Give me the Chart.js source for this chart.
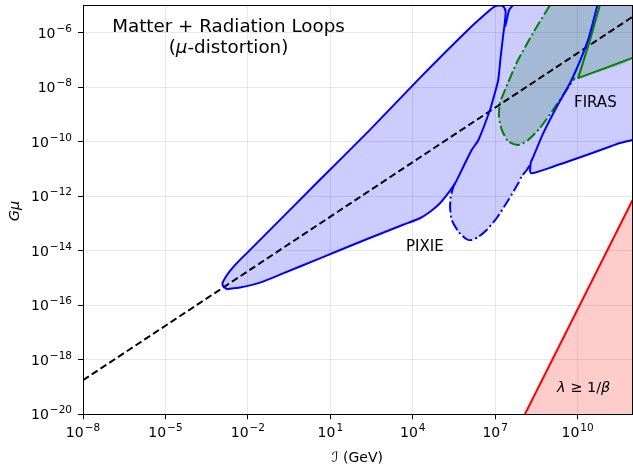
<!DOCTYPE html>
<html>
<head>
<meta charset="utf-8">
<script src="https://cdn.jsdelivr.net/npm/chart.js@4.4.1/dist/chart.umd.min.js"></script>
<style>
  html, body { margin: 0; padding: 0; background: #fff; }
  canvas { display: block; }
</style>
</head>
<body>
<canvas id="chart" width="633" height="467"></canvas>
<script>
// tick positions, as powers of ten
const xTickExps = [-8, -5, -2, 1, 4, 7, 10];
const yTickExps = [-20, -18, -16, -14, -12, -10, -8, -6];

// curves as [log10 I, log10 Gmu] pairs
const stringLine = [[-8, -18.75], [12, -5.42]];

const pixieLoopA = [
    [-2.77, -15.41], [-2.905, -15.29], [-2.92, -15.18], [-2.83, -15.0], [-2.65, -14.74],
    [-2.36, -14.41], [-1.92, -13.97], [0.62, -11.40], [2.44, -9.57], [4.26, -7.66],
    [6.08, -5.83], [6.81, -5.17], [6.99, -5.04], [7.17, -5.0], [7.30, -5.05],
    [7.38, -5.23], [7.34, -5.72], [7.30, -6.02], [7.20, -6.88], [7.11, -7.74],
    [6.96, -8.32], [6.81, -8.84], [6.39, -9.94], [6.15, -10.30], [5.84, -10.92],
    [5.54, -11.53], [5.29, -11.89], [4.99, -12.26], [4.63, -12.57], [4.26, -12.81],
    [3.65, -13.05], [2.32, -13.58], [0.62, -14.28], [-0.83, -14.88], [-1.56, -15.17],
    [-2.29, -15.35], [-2.77, -15.41]
];
const pixieLoopBTop = [[7.64, -5.0], [7.51, -5.17], [7.42, -5.54], [7.36, -5.79]];
const pixieLoopBLower = [
    [5.54, -11.53], [5.48, -11.65], [5.38, -12.02], [5.36, -12.44], [5.42, -12.87],
    [5.66, -13.30], [5.96, -13.58], [6.15, -13.61], [6.39, -13.49], [6.69, -13.24],
    [7.05, -12.81], [7.48, -12.14], [7.84, -11.53], [7.96, -11.28], [8.15, -11.04],
    [8.27, -10.85]
];
const pixieRightEdge = [
    [10.72, -5.0], [10.38, -6.27], [9.78, -7.74], [9.24, -8.72], [8.75, -9.69],
    [8.39, -10.55], [8.29, -10.79], [8.30, -11.16], [9.10, -10.92], [10.56, -10.41],
    [11.54, -10.05], [12.0, -9.94]
];
const pixieRegion = [
    [-2.77, -15.41], [-2.905, -15.29], [-2.92, -15.18], [-2.83, -15.0], [-2.65, -14.74],
    [-2.36, -14.41], [-1.92, -13.97], [0.62, -11.40], [2.44, -9.57], [4.26, -7.66],
    [6.08, -5.83], [6.81, -5.17], [6.99, -5.04], [7.17, -5.0], [12.0, -5.0],
    [12.0, -9.94], [11.54, -10.05], [10.56, -10.41], [9.10, -10.92], [8.30, -11.16],
    [8.15, -11.04], [7.96, -11.28], [7.84, -11.53], [7.48, -12.14], [7.05, -12.81],
    [6.69, -13.24], [6.39, -13.49], [6.15, -13.61], [5.96, -13.58], [5.66, -13.30],
    [5.42, -12.87], [5.36, -12.44], [5.38, -12.02], [5.48, -11.65], [5.54, -11.53],
    [5.29, -11.89], [4.99, -12.26], [4.63, -12.57], [4.26, -12.81], [3.65, -13.05],
    [2.32, -13.58], [0.62, -14.28], [-0.83, -14.88], [-1.56, -15.17], [-2.29, -15.35]
];

const firasLobe = [
    [8.99, -5.0], [8.38, -6.01], [7.78, -7.11], [7.36, -8.10], [7.17, -8.58],
    [7.14, -9.09], [7.24, -9.57], [7.48, -10.0], [7.84, -10.12], [8.20, -9.94],
    [8.63, -9.50], [9.10, -8.84], [9.60, -8.10], [9.90, -7.66]
];
const firasEdge = [[10.81, -5.0], [10.45, -6.27], [10.02, -7.67], [12.0, -6.93]];
const firasRegion = [
    [8.99, -5.0], [8.38, -6.01], [7.78, -7.11], [7.36, -8.10], [7.17, -8.58],
    [7.14, -9.09], [7.24, -9.57], [7.48, -10.0], [7.84, -10.12], [8.20, -9.94],
    [8.63, -9.50], [9.10, -8.84], [9.60, -8.10], [9.90, -7.66], [10.02, -7.67],
    [12.0, -6.93], [12.0, -5.0]
];

const lambdaLine = [[8.08, -20.0], [12.0, -12.14]];
const lambdaRegion = [[8.08, -20.0], [12.0, -12.14], [12.0, -20.0]];

const titleLine1 = 'Matter + Radiation Loops';
const titleLine2 = [['(', false], ['\u03bc', true], ['-distortion)', false]];

const FONT = '"DejaVu Sans", sans-serif';
const dashDot = [11, 3, 2, 3];

const toPts = arr => arr.map(([lx, ly]) => ({ x: 10 ** lx, y: 10 ** ly }));

function area(data, color, order, tension) {
    return {
        data: toPts(data), showLine: true, fill: 'shape', backgroundColor: color,
        borderColor: 'rgba(0,0,0,0)', borderWidth: 1, pointRadius: 0, order: order,
        tension: tension || 0
    };
}

function curve(data, color, dash, order, tension) {
    return {
        data: toPts(data), showLine: true, fill: false, borderColor: color, borderWidth: 2,
        borderDash: dash, pointRadius: 0, order: order, borderJoinStyle: 'round',
        tension: tension || 0
    };
}

// draw "10" with a superscript exponent
function drawPower(ctx, exp, x, y, align) {
    const sup = (exp < 0 ? '\u2212' : '') + Math.abs(exp);
    ctx.font = '14px ' + FONT;
    const wb = ctx.measureText('10').width;
    ctx.font = '10.5px ' + FONT;
    const ws = ctx.measureText(sup).width;
    const total = wb + ws + 1;
    const x0 = align === 'center' ? x - total / 2 : x - total;
    ctx.textAlign = 'left';
    ctx.font = '14px ' + FONT;
    ctx.fillText('10', x0, y);
    ctx.font = '10.5px ' + FONT;
    ctx.fillText(sup, x0 + wb + 1, y - 6);
}

// draw pieces of text, some in italic
function drawPieces(ctx, pieces, size, x, y, align) {
    let total = 0;
    const widths = pieces.map(([t, it]) => {
        ctx.font = (it ? 'italic ' : '') + size + 'px ' + FONT;
        const w = ctx.measureText(t).width;
        total += w;
        return w;
    });
    let cx = align === 'center' ? x - total / 2 : x;
    ctx.textAlign = 'left';
    pieces.forEach(([t, it], i) => {
        ctx.font = (it ? 'italic ' : '') + size + 'px ' + FONT;
        ctx.fillText(t, cx, y);
        cx += widths[i];
    });
}

const decorations = {
    id: 'decorations',
    afterDraw(chart) {
        const { ctx, chartArea: a, scales: { x, y } } = chart;
        ctx.save();
        ctx.strokeStyle = '#000';
        ctx.lineWidth = 1;
        ctx.strokeRect(Math.round(a.left) + 0.5, Math.round(a.top) + 0.5,
            Math.round(a.right - a.left) - 1, Math.round(a.bottom - a.top));

        ctx.fillStyle = '#000';
        ctx.textBaseline = 'alphabetic';
        xTickExps.forEach(e => drawPower(ctx, e, x.getPixelForValue(10 ** e), 437, 'center'));
        yTickExps.forEach(e => drawPower(ctx, e, 72, y.getPixelForValue(10 ** e) + 5, 'right'));

        ctx.font = '18.3px ' + FONT;
        ctx.textAlign = 'center';
        ctx.fillText(titleLine1, 228.5, 32);
        drawPieces(ctx, titleLine2, 18.3, 228.5, 53, 'center');

        ctx.textAlign = 'left';
        ctx.font = '15px ' + FONT;
        ctx.fillText('FIRAS', 574, 107);
        ctx.fillText('PIXIE', 406, 251);
        drawPieces(ctx, [['\u03bb', true], [' \u2265 1/', false], ['\u03b2', true]], 14.5, 557, 392, 'left');

        drawPieces(ctx, [['\u2110', false], [' (GeV)', false]], 14, 357.5, 462, 'center');

        ctx.save();
        ctx.translate(19, 211);
        ctx.rotate(-Math.PI / 2);
        drawPieces(ctx, [['G\u03bc', true]], 14.5, 0, 0, 'center');
        ctx.restore();
        ctx.restore();
    }
};

const gridColor = 'rgba(176,176,176,0.3)';

new Chart(document.getElementById('chart'), {
    type: 'scatter',
    data: {
        datasets: [
            area(lambdaRegion, 'rgba(255,0,0,0.2)', 20),
            area(pixieRegion, 'rgba(0,0,255,0.2)', 19, 0.2),
            area(firasRegion, 'rgba(0,104,40,0.2)', 18, 0.2),
            curve(lambdaLine, '#ff0000', [], 5),
            curve(stringLine, '#000000', [7, 3.5], 4),
            curve(firasLobe, '#008000', dashDot, 3, 0.2),
            curve(firasEdge, '#008000', [], 3),
            curve(pixieLoopBLower, '#0000ff', dashDot, 2, 0.2),
            curve(pixieLoopA, '#0000ff', [], 1, 0.2),
            curve(pixieLoopBTop, '#0000ff', [], 1, 0.2),
            curve(pixieRightEdge, '#0000ff', [], 1, 0.2)
        ]
    },
    options: {
        responsive: false,
        animation: false,
        layout: { padding: { top: 5.3, right: 0.4, left: 0, bottom: 0 } },
        plugins: { legend: { display: false }, tooltip: { enabled: false } },
        scales: {
            x: {
                type: 'logarithmic', min: 1e-8, max: 1e12,
                afterBuildTicks: s => { s.ticks = xTickExps.map(e => ({ value: 10 ** e })); },
                afterFit: s => { s.height = 52.7; },
                ticks: { display: false },
                grid: { color: gridColor, lineWidth: 1, drawTicks: true, tickLength: 5, tickColor: '#000', tickWidth: 1 },
                border: { display: true, color: '#000', width: 1 }
            },
            y: {
                type: 'logarithmic', min: 1e-20, max: 1e-5,
                afterBuildTicks: s => { s.ticks = yTickExps.map(e => ({ value: 10 ** e })); },
                afterFit: s => { s.width = 83; },
                ticks: { display: false },
                grid: { color: gridColor, lineWidth: 1, drawTicks: true, tickLength: 5, tickColor: '#000', tickWidth: 1 },
                border: { display: true, color: '#000', width: 1 }
            }
        }
    },
    plugins: [decorations]
});
</script>
</body>
</html>
